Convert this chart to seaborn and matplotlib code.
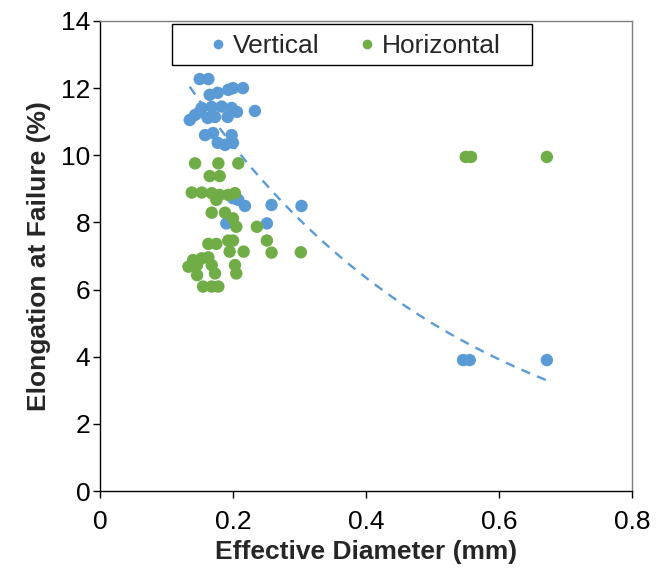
import numpy as np
import pandas as pd
import matplotlib
matplotlib.use("Agg")
import matplotlib.pyplot as plt
import seaborn as sns
from matplotlib.lines import Line2D
from matplotlib.patches import Rectangle

# Vertical build orientation: effective diameter (mm) and elongation at failure (%)
vert_diam = [0.150, 0.163, 0.193, 0.200, 0.215, 0.165, 0.177, 0.233,
             0.153, 0.168, 0.183, 0.198, 0.206, 0.135, 0.143, 0.150,
             0.162, 0.173, 0.192, 0.158, 0.170, 0.198, 0.177, 0.188,
             0.200, 0.208, 0.218, 0.258, 0.190, 0.251, 0.303, 0.200,
             0.546, 0.556, 0.672]
vert_elong = [12.27, 12.27, 11.95, 12.00, 12.00, 11.80, 11.86, 11.32,
              11.41, 11.44, 11.45, 11.41, 11.29, 11.05, 11.20, 11.29,
              11.11, 11.14, 11.14, 10.60, 10.66, 10.60, 10.37, 10.31,
              10.37, 8.67, 8.49, 8.52, 7.97, 7.97, 8.49, 8.72,
              3.90, 3.90, 3.90]

# Horizontal build orientation
horiz_diam = [0.143, 0.178, 0.208, 0.165, 0.180, 0.138, 0.153, 0.168,
              0.180, 0.193, 0.203, 0.175, 0.168, 0.188, 0.200, 0.205,
              0.236, 0.251, 0.258, 0.163, 0.175, 0.193, 0.200, 0.195,
              0.216, 0.140, 0.153, 0.163, 0.133, 0.146, 0.168, 0.173,
              0.146, 0.203, 0.205, 0.155, 0.168, 0.178, 0.302,
              0.550, 0.558, 0.672]
horiz_elong = [9.76, 9.76, 9.76, 9.38, 9.38, 8.89, 8.89, 8.87,
               8.82, 8.82, 8.87, 8.67, 8.29, 8.29, 8.12, 7.87,
               7.87, 7.46, 7.10, 7.36, 7.36, 7.46, 7.46, 7.13,
               7.13, 6.88, 6.93, 6.96, 6.68, 6.73, 6.73, 6.48,
               6.43, 6.73, 6.48, 6.09, 6.09, 6.09, 7.11,
               9.95, 9.95, 9.95]

orientations = ["Vertical", "Horizontal"]
palette = {"Vertical": "#5B9BD5", "Horizontal": "#70AD47"}

df = pd.DataFrame({
    "diam": vert_diam + horiz_diam,
    "elong": vert_elong + horiz_elong,
    "orientation": ["Vertical"] * len(vert_diam) + ["Horizontal"] * len(horiz_diam),
})

sns.set_style("ticks")
plt.rcParams["font.family"] = ["Liberation Sans", "DejaVu Sans"]

fig = plt.figure(figsize=(6.56, 5.73), dpi=100)
ax = fig.add_axes([0.1524, 0.1431, 0.8110, 0.8203])

sns.scatterplot(data=df, x="diam", y="elong", hue="orientation",
                hue_order=orientations, palette=palette, s=80,
                linewidth=0, alpha=1, legend=False, ax=ax, zorder=2)

# Exponential trend fitted to the vertical series (least squares on ln y)
vx = np.array(vert_diam)
vy = np.array(vert_elong)
b, ln_a = np.polyfit(vx, np.log(vy), 1)
xs = np.linspace(vx.min(), vx.max(), 200)
trend = pd.DataFrame({"diam": xs, "elong": np.exp(ln_a) * np.exp(b * xs)})
sns.lineplot(data=trend, x="diam", y="elong", ax=ax, color=palette["Vertical"],
             linewidth=1.7, dashes=False, zorder=3)
ax.lines[-1].set_dashes([4.0, 3.2])

ax.set_xlim(0, 0.8)
ax.set_ylim(0, 14)
ax.set_xticks([0, 0.2, 0.4, 0.6, 0.8])
ax.set_xticklabels(["0", "0.2", "0.4", "0.6", "0.8"])
ax.set_yticks(range(0, 15, 2))

ax.set_xlabel("Effective Diameter (mm)", fontsize=19, fontweight="bold", labelpad=4)
ax.set_ylabel("Elongation at Failure (%)", fontsize=19, fontweight="bold", labelpad=7)
ax.tick_params(axis="both", which="major", labelsize=19, direction="out",
               length=5, width=1, color="black", labelcolor="black")
ax.tick_params(axis="x", pad=9)
ax.tick_params(axis="y", pad=2)

for side in ["left", "bottom"]:
    ax.spines[side].set_color("black")
    ax.spines[side].set_linewidth(1)
for side in ["top", "right"]:
    ax.spines[side].set_visible(True)
    ax.spines[side].set_color("#7f7f7f")
    ax.spines[side].set_linewidth(1)

# Legend entries inside a wide boxed frame near the top of the plot area
handles = [Line2D([], [], marker="o", linestyle="none", markersize=7,
                  markerfacecolor=palette[o], markeredgewidth=0, label=o)
           for o in orientations]
leg = ax.legend(handles=handles, loc="center", bbox_to_anchor=(0.48, 0.946),
                ncol=2, fontsize=19, frameon=False,
                handlelength=0.6, handletextpad=0.25, columnspacing=1.5,
                borderpad=0.0, borderaxespad=0.0)
ax.add_patch(Rectangle((0.135, 0.906), 0.677, 0.0872, transform=ax.transAxes,
                       facecolor="white", edgecolor="black", linewidth=1,
                       zorder=4, clip_on=False))
leg.set_zorder(5)

fig.savefig("out.png", dpi=100)
